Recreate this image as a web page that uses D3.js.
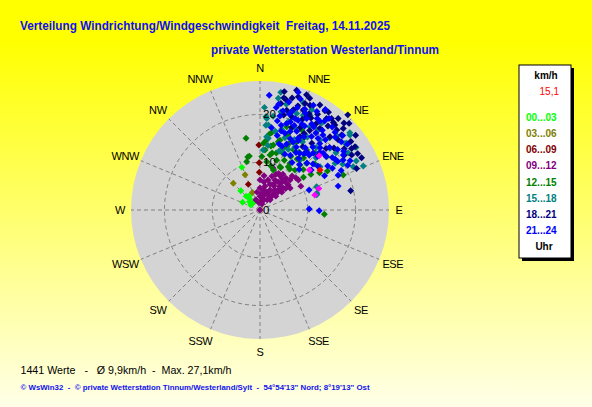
<!DOCTYPE html>
<html>
<head>
<meta charset="utf-8">
<script src="https://cdn.jsdelivr.net/npm/d3@7"></script>
<style>
  html, body { margin: 0; padding: 0; }
  body { width: 592px; height: 407px; overflow: hidden; }
  text { font-family: "Liberation Sans", Arial, sans-serif; white-space: pre; }
</style>
</head>
<body>
<div id="chart"></div>
<script>

// compass sectors and speed rings
var directions = ["N", "NNE", "NE", "ENE", "E", "ESE", "SE", "SSE",
                  "S", "SSW", "SW", "WSW", "W", "WNW", "NW", "NNW"];
var ringTicks = [0, 10, 20];
var speedMax = 27;

// legend: time of day groups
var hourGroups = ["00...03", "03...06", "06...09", "09...12",
                  "12...15", "15...18", "18...21", "21...24"];

// readings per group: [direction in degrees, speed in km/h]
var pts0003 = [[337, 9.7], [315, 5.7], [315, 4.1], [294, 4.0], [298, 2.2], [312, 2.1],
  [331, 2.2], [322, 3.7], [308, 2.8], [317, 3.2]];

var pts0306 = [[337, 8.0], [315, 7.9], [336.5, 4.0]];

var pts0609 = [[359, 13.6], [359, 9.9], [359, 7.9], [335.5, 5.9], [13, 2.1]];

var pts0912 = [[0, 0], [352, 1.5], [9.5, 2.5], [20.6, 3.6], [26.6, 4.7], [30.3, 5.8], [32.7, 7.0],
  [35.4, 8.0], [39.1, 8.6], [45, 8.9], [48.2, 7.9], [46.3, 6.7], [45, 5.3], [40.6, 3.9],
  [35, 2.6], [18.4, 1.3], [0, 2.9], [0, 4.6], [0, 6.3], [6.7, 7.2], [14.9, 6.5], [19.4, 7.5],
  [24, 8.2], [30.5, 8.3], [11.8, 5.1], [21, 5.8], [26.6, 7.0], [24, 4.1], [39.5, 4.6],
  [39.8, 6.5], [41.8, 7.9], [43.3, 9.8], [48.4, 10.1], [59.7, 9.9], [17.2, 9.2], [21.8, 2.3],
  [45, 3.0], [48.8, 4.4], [50.7, 5.9], [11.3, 4.3], [8.1, 5.9], [54.1, 7.8], [32.6, 8.9],
  [338, 2.3], [350.5, 3.8], [52, 10.2], [28, 6.2], [36, 5.2], [15, 3.3], [33, 3.6],
  [42, 5.6], [27, 8.6], [38, 7.2], [50, 7.0], [44, 6.2], [5, 3.5]];

var pts1215 = [[349, 15.3], [347, 11.4], [344.6, 10.5], [348.8, 11.5], [8.6, 16.4], [9.7, 13.6],
  [5, 14.6], [4.8, 12.6], [10.3, 11.7], [18.5, 11.0], [22.3, 12.8], [24.8, 10.0], [18.4, 8.8],
  [32.7, 11.6], [41.2, 11.1], [41.6, 12.6], [22.9, 14.4], [29, 14.4], [38.4, 15.1], [11.6, 13.9],
  [15, 14.8], [16, 15.2], [28.2, 16.2], [37.9, 15.9], [51.4, 17.9], [67.2, 18.9], [93.8, 13.5],
  [53, 11.4], [33.2, 10.8], [27.5, 18.9], [17.8, 18.3], [14, 9.5], [26, 9.9], [36, 13.2],
  [45, 13.8], [8, 10.2], [2, 11.2], [20, 16.8], [31, 17.3], [44, 16.6], [58, 14.7],
  [3, 14.0], [7, 16.0], [12, 12.2], [20, 13.8], [24, 15.4], [30, 12.9], [34, 14.6], [40, 14.2],
  [47, 12.4], [50, 15.0], [55, 13.0], [26, 11.6], [16, 12.4], [36, 10.6], [60, 16.3]];

var pts1518 = [[3.7, 19.6], [4, 17.8], [6.6, 15.1], [3, 12.6], [9.3, 23.7], [22, 24.2], [49.3, 24.8],
  [56.9, 24.0], [66.9, 23.5], [75, 12.3], [69.6, 13.0], [73.6, 12.4], [51.9, 22.6], [4.2, 19.2],
  [5.6, 17.9], [5.2, 15.4], [17.8, 19.4], [24.5, 21.8], [31, 20.3], [40.6, 19.3], [48.6, 19.5],
  [52.4, 22.9], [50.2, 24.5], [58.1, 18.5], [54.2, 15.5], [38.7, 13.4], [29, 15.0], [19.9, 13.4],
  [20.8, 21.6], [27.3, 23.6], [35.4, 22.3], [65.1, 21.5], [67.7, 12.8], [12, 21.0], [15, 17.5],
  [44, 21.0], [33, 18.2], [26, 16.4], [47, 16.0], [61, 19.8], [2.5, 21.5], [10, 25.0],
  [8, 19.8], [11, 16.8], [14, 22.8], [19, 16.0], [23, 18.7], [28, 22.4], [32, 16.8], [36, 20.8],
  [42, 17.6], [46, 22.4], [53, 19.9], [57, 22.0], [63, 22.6], [7, 13.6], [18, 13.0], [25, 14.0]];

var pts1821 = [[11.1, 22.7], [25.5, 24.3], [33.2, 24.8], [40.5, 25.2], [42.7, 27.1], [45.8, 26.0],
  [62.8, 23.9], [66.7, 22.0], [78, 19.4], [56.3, 23.9], [11.6, 25.3], [18.7, 25.0], [22.9, 24.2],
  [29.7, 25.3], [36, 23.7], [43.8, 23.2], [36.3, 21.2], [18.4, 22.1], [28.6, 17.5], [43.7, 21.2],
  [47.4, 23.2], [37.8, 17.7], [26.6, 21.8], [41.4, 23.7], [45.6, 24.4], [56.1, 23.1], [23.4, 22.8],
  [14, 20.5], [32, 19.6], [50, 20.2], [54, 21.8], [59, 22.4], [39, 22.6], [47, 18.9], [21, 18.5],
  [34, 16.0], [52, 25.4], [13, 23.8], [16, 24.4], [20, 23.2], [24, 25.6], [27, 22.6], [31, 23.4],
  [35, 25.0], [38, 24.3], [15, 21.6], [19, 20.6], [25, 20.9], [29, 22.0], [33, 21.5], [40, 23.9],
  [44, 25.3], [48, 22.0], [53, 23.8], [57, 21.0], [60, 23.6], [17, 26.2], [22, 26.0], [12, 24.0],
  [26, 19.2], [30, 18.5]];

var pts2124 = [[4.6, 24.1], [18, 25.9], [88.8, 10.3], [90.7, 12.4], [73, 17.1], [67.8, 11.1],
  [61.3, 21.5], [56.6, 20.9], [10, 22.5], [12, 20.1], [14, 18.3], [15, 23.4], [17, 21.0],
  [18, 16.9], [19, 19.5], [20, 22.8], [21, 17.6], [22, 14.9], [23, 20.4], [24, 23.1], [25, 18.2],
  [26, 15.8], [27, 21.5], [28, 19.9], [29, 16.6], [30, 23.8], [31, 17.9], [32, 14.2], [33, 20.7],
  [34, 22.4], [35, 18.8], [36, 16.1], [37, 13.5], [38, 21.2], [39, 19.3], [40, 17.2], [41, 23.0],
  [42, 15.4], [43, 20.1], [44, 18.1], [45, 13.9], [46, 21.9], [47, 16.5], [48, 19.6], [49, 14.7],
  [50, 22.2], [51, 17.8], [52, 20.6], [53, 15.2], [54, 18.7], [55, 21.4], [57, 16.9], [58, 19.2],
  [60, 17.5], [13, 16.0], [16, 14.4], [11, 19.0], [9, 21.7], [8, 17.4], [24, 12.8], [34, 12.0],
  [44, 11.8], [27, 24.6], [33, 25.1], [20, 24.7], [37, 24.0], [62, 15.3], [64, 18.9], [29, 13.1],
  [41, 12.6], [26, 20.0], [31, 21.0], [36, 19.9], [39, 15.6], [46, 17.4], [22, 19.1], [18, 21.7],
  [15, 17.1], [48, 23.3], [52, 13.6], [43, 16.3], [35, 14.5], [13, 21.3], [17, 18.9], [21, 20.5],
  [25, 22.4], [28, 17.0], [32, 22.6], [36, 23.0], [40, 20.5], [44, 22.6], [48, 17.8], [53, 22.9],
  [56, 19.0], [59, 20.3], [63, 20.6], [66, 17.9], [30, 15.2], [38, 14.9], [42, 18.7], [23, 16.2],
  [19, 14.1]];

// latest hour and current reading
var ptsLast = [[47.5, 16.8], [51, 13.3], [70, 13.1], [74.7, 11.9]];
var ptsNow = [[56.3, 15.1]];
var nowLabel = "15,1";

var groupPoints = [pts0003, pts0306, pts0609, pts0912, pts1215, pts1518, pts1821, pts2124];
var groupColors = ["#00ff00", "#808000", "#800000", "#800080",
                   "#008000", "#008080", "#000080", "#0000ff"];

var titleText = "Verteilung Windrichtung/Windgeschwindigkeit  Freitag, 14.11.2025";
var subtitleText = "private Wetterstation Westerland/Tinnum";
var summaryText = "1441 Werte   -   \u00d8 9,9km/h  -  Max. 27,1km/h";
var footerText = "\u00a9 WsWin32  -  \u00a9 private Wetterstation Tinnum/Westerland/Sylt  -  54\u00b054'13\" Nord; 8\u00b019'13\" Ost";

var width = 592, height = 407;
var cx = 260, cy = 210;

var svg = d3.select("#chart").append("svg")
  .attr("width", width)
  .attr("height", height);

var defs = svg.append("defs");
var grad = defs.append("linearGradient")
  .attr("id", "bg")
  .attr("x1", 0).attr("y1", 0).attr("x2", 0).attr("y2", 1);
grad.append("stop").attr("offset", "0%").attr("stop-color", "#ffff00");
grad.append("stop").attr("offset", "10%").attr("stop-color", "#ffff00");
grad.append("stop").attr("offset", "100%").attr("stop-color", "#ffffe8");

svg.append("rect")
  .attr("width", width)
  .attr("height", height)
  .attr("fill", "url(#bg)");

// titles
svg.append("text")
  .attr("x", 20).attr("y", 29.5)
  .attr("font-size", "13px").attr("font-weight", "bold")
  .attr("fill", "#1010ee")
  .attr("textLength", 370).attr("lengthAdjust", "spacingAndGlyphs")
  .text(titleText);

svg.append("text")
  .attr("x", 211).attr("y", 53.5)
  .attr("font-size", "13px").attr("font-weight", "bold")
  .attr("fill", "#1010ee")
  .attr("textLength", 228).attr("lengthAdjust", "spacingAndGlyphs")
  .text(subtitleText);

// polar area
var rScale = d3.scaleLinear().domain([0, speedMax]).range([0, 129]);
var aScale = d3.scaleLinear().domain([0, 360]).range([0, 2 * Math.PI]);

var polar = svg.append("g")
  .attr("transform", "translate(" + cx + "," + cy + ")");

polar.append("circle")
  .attr("r", rScale(speedMax))
  .attr("fill", "#d4d4d4");

polar.selectAll(".spoke")
  .data(directions)
  .enter().append("line")
  .attr("class", "spoke")
  .attr("x1", 0).attr("y1", 0)
  .attr("x2", function(d, i) { return d3.pointRadial(aScale(i * 22.5), rScale(speedMax))[0]; })
  .attr("y2", function(d, i) { return d3.pointRadial(aScale(i * 22.5), rScale(speedMax))[1]; })
  .attr("stroke", "#808080")
  .attr("stroke-dasharray", "4,3");

polar.selectAll(".ring")
  .data(ringTicks.filter(function(d) { return d > 0; }))
  .enter().append("circle")
  .attr("class", "ring")
  .attr("r", function(d) { return rScale(d); })
  .attr("fill", "none")
  .attr("stroke", "#808080")
  .attr("stroke-dasharray", "4,3");

// compass labels
polar.selectAll(".dir")
  .data(directions)
  .enter().append("text")
  .attr("class", "dir")
  .attr("font-size", "11px")
  .attr("letter-spacing", "-0.4px")
  .attr("text-anchor", "middle")
  .attr("dominant-baseline", "central")
  .text(function(d) { return d; })
  .each(function(d, i) {
    var a = aScale(i * 22.5);
    var hw = this.getComputedTextLength() / 2;
    var x = Math.sin(a) * 137;
    x += (Math.abs(Math.sin(a)) > 0.01 ? Math.sign(Math.sin(a)) * hw * 0.6 : 0);
    var y = -Math.cos(a) * 142;
    d3.select(this).attr("x", x).attr("y", y);
  });

// readings
var diamond = d3.symbol().type(d3.symbolSquare).size(24);

function drawPoints(data, color) {
  polar.append("g")
    .selectAll("path")
    .data(data)
    .enter().append("path")
    .attr("d", diamond)
    .attr("fill", color)
    .attr("transform", function(d) {
      var p = d3.pointRadial(aScale(d[0]), rScale(d[1]));
      return "translate(" + p[0] + "," + p[1] + ") rotate(45)";
    });
}

groupPoints.forEach(function(pts, i) { drawPoints(pts, groupColors[i]); });
drawPoints(ptsLast, "#ff00ff");
drawPoints(ptsNow, "#ff0000");

// ring labels on top
polar.selectAll(".ringlabel")
  .data(ringTicks)
  .enter().append("text")
  .attr("class", "ringlabel")
  .attr("x", 3)
  .attr("y", function(d) { return -rScale(d); })
  .attr("dominant-baseline", "central")
  .attr("font-size", "11.5px")
  .attr("fill", "#000")
  .text(function(d) { return d; });

// legend box
var legend = svg.append("g");
legend.append("rect")
  .attr("x", 522).attr("y", 68)
  .attr("width", 52).attr("height", 193)
  .attr("fill", "#000");
legend.append("rect")
  .attr("x", 519).attr("y", 65)
  .attr("width", 52).attr("height", 193)
  .attr("fill", "#fff")
  .attr("stroke", "#000");

legend.append("text")
  .attr("x", 546).attr("y", 75)
  .attr("text-anchor", "middle").attr("dominant-baseline", "central")
  .attr("font-size", "10px").attr("font-weight", "bold")
  .text("km/h");

legend.append("text")
  .attr("x", 559).attr("y", 91)
  .attr("text-anchor", "end").attr("dominant-baseline", "central")
  .attr("font-size", "10px").attr("fill", "#ff0000")
  .text(nowLabel);

var legendY = d3.scaleLinear().domain([0, hourGroups.length]).range([117.5, 246.5]);

legend.selectAll(".grp")
  .data(hourGroups)
  .enter().append("text")
  .attr("class", "grp")
  .attr("x", 526)
  .attr("y", function(d, i) { return legendY(i); })
  .attr("dominant-baseline", "central")
  .attr("font-size", "10px").attr("font-weight", "bold")
  .attr("fill", function(d, i) { return groupColors[i]; })
  .text(function(d) { return d; });

legend.append("text")
  .attr("x", 544).attr("y", legendY(hourGroups.length))
  .attr("text-anchor", "middle").attr("dominant-baseline", "central")
  .attr("font-size", "10px").attr("font-weight", "bold")
  .text("Uhr");

// bottom lines
svg.append("text")
  .attr("x", 20.5).attr("y", 373.5)
  .attr("font-size", "11px")
  .attr("textLength", 211).attr("lengthAdjust", "spacingAndGlyphs")
  .text(summaryText);

svg.append("text")
  .attr("x", 20.5).attr("y", 389.5)
  .attr("font-size", "8px").attr("font-weight", "bold")
  .attr("fill", "#1010ee")
  .attr("textLength", 349).attr("lengthAdjust", "spacingAndGlyphs")
  .text(footerText);

</script>
</body>
</html>
